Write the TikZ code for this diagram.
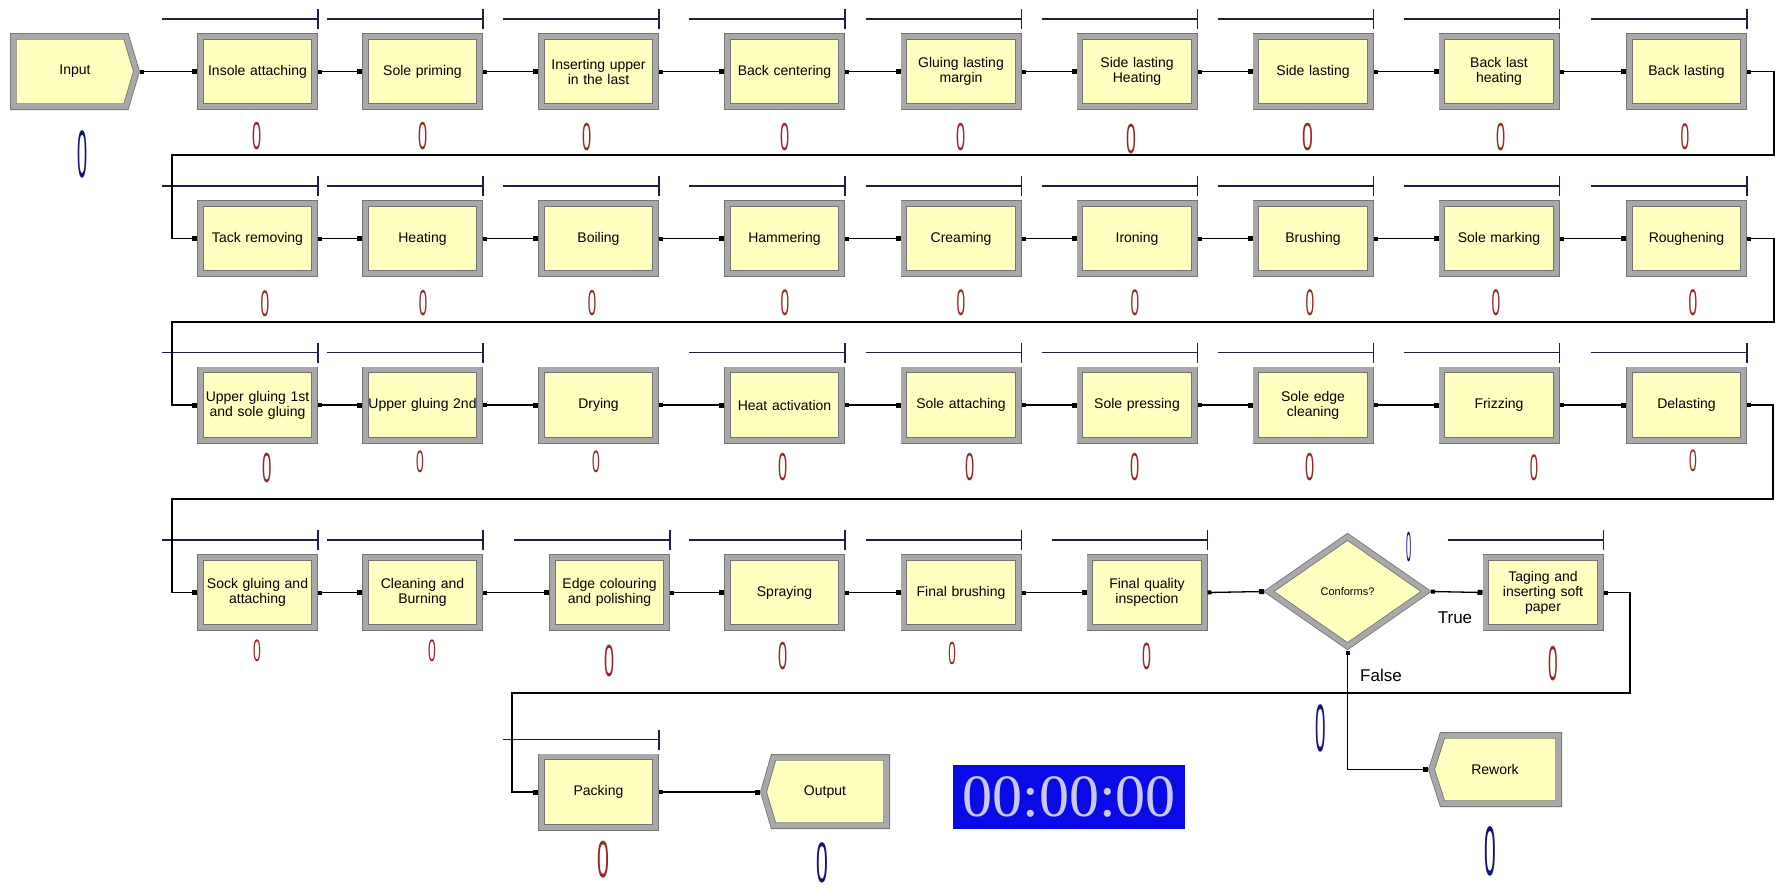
\documentclass[tikz,border=0pt]{standalone}
\usepackage{fontspec}
\usepackage{graphicx}
\setmainfont{Liberation Sans}
\newfontfamily\clockfont{Liberation Serif}
\usetikzlibrary{arrows.meta,shapes.geometric}
\definecolor{boxfill}{RGB}{255,255,192}
\definecolor{framegray}{RGB}{168,168,168}
\definecolor{frameedge}{RGB}{115,115,115}
\definecolor{barcol}{RGB}{30,30,70}
\definecolor{cred}{RGB}{150,40,40}
\definecolor{cblue}{RGB}{20,20,120}
\definecolor{clockbg}{RGB}{10,10,230}
\definecolor{clocktxt}{RGB}{200,200,240}
\tikzset{
  frame/.style={draw=frameedge, double=framegray, double distance=5pt, line width=0.8pt, fill=boxfill},
  proc/.style={frame, rectangle, minimum width=114.4pt, minimum height=70.4pt, inner sep=1pt, outer sep=3.3pt,
    align=center, text width=112pt, font=\fontsize{14}{15}\selectfont},
  shapelabel/.style={inner sep=0pt, outer sep=0pt, minimum height=77pt, font=\fontsize{14}{15}\selectfont},
  conn/.style={draw=black, line width=1.3pt, {Square[length=4pt,width=4pt]}-{Square[length=5pt,width=5pt]}},
  barline/.style={draw=barcol, line width=1.8pt},
  tflabel/.style={inner sep=0pt, font=\fontsize{17}{17}\selectfont},
}
\newcommand\zcount[6]{\node[text=#6, inner sep=0pt, outer sep=0pt] (#1) at (#2,#3) {\fontsize{#4}{#4}\selectfont\scalebox{#5}[1]{0}};}
\begin{document}
\begin{tikzpicture}[x=1pt,y=-1pt]
\fill[white] (0,0) rectangle (1783,892);
\useasboundingbox (0,0) rectangle (1783,892);

% ---- custom shapes (Create / Dispose)
\draw[frame] (13.3,36.3) -- (126,36.3) -- (136.5,71.5) -- (126,106.7) -- (13.3,106.7) -- cycle;
\node[shapelabel, minimum width=130pt] (input) at (75,71.5) {Input};
\draw[frame] (763.5,792) -- (773.5,757.3) -- (886.7,757.3) -- (886.7,825.7) -- (773.5,825.7) -- cycle;
\node[shapelabel, minimum width=130pt] (output) at (825,792) {Output};
\draw[frame] (1431.5,769.5) -- (1442.5,735.3) -- (1558.7,735.3) -- (1558.7,803.7) -- (1442.5,803.7) -- cycle;
\node[shapelabel, minimum width=134pt, minimum height=75pt] (rework) at (1495,769.5) {Rework};

% ---- row 1
\node[proc] (b11) at (257.5,71.5) {Insole attaching};
\node[proc] (b12) at (422.5,71.5) {Sole priming};
\node[proc] (b13) at (598.5,71.5) {Inserting upper\\in the last};
\node[proc] (b14) at (784.5,71.5) {Back centering};
\node[proc] (b15) at (961,71.5) {Gluing lasting\\margin};
\node[proc] (b16) at (1137,71.5) {Side lasting\\Heating};
\node[proc] (b17) at (1313,71.5) {Side lasting};
\node[proc] (b18) at (1499,71.5) {Back last\\heating};
\node[proc] (b19) at (1686.5,71.5) {Back lasting};
% ---- row 2
\node[proc] (b21) at (257.5,238.5) {Tack removing};
\node[proc] (b22) at (422.5,238.5) {Heating};
\node[proc] (b23) at (598.5,238.5) {Boiling};
\node[proc] (b24) at (784.5,238.5) {Hammering};
\node[proc] (b25) at (961,238.5) {Creaming};
\node[proc] (b26) at (1137,238.5) {Ironing};
\node[proc] (b27) at (1313,238.5) {Brushing};
\node[proc] (b28) at (1499,238.5) {Sole marking};
\node[proc] (b29) at (1686.5,238.5) {Roughening};
% ---- row 3
\node[proc] (b31) at (257.5,405) {Upper gluing 1st\\and sole gluing};
\node[proc] (b32) at (422.5,405) {Upper gluing 2nd};
\node[proc] (b33) at (598.5,405) {Drying};
\node[proc] (b34) at (784.5,405) {Heat activation};
\node[proc] (b35) at (961,405) {Sole attaching};
\node[proc] (b36) at (1137,405) {Sole pressing};
\node[proc] (b37) at (1313,405) {Sole edge\\cleaning};
\node[proc] (b38) at (1499,405) {Frizzing};
\node[proc] (b39) at (1686.5,405) {Delasting};
% ---- row 4
\node[proc] (b41) at (257.5,592.5) {Sock gluing and\\attaching};
\node[proc] (b42) at (422.5,592.5) {Cleaning and\\Burning};
\node[proc] (b43) at (609.5,592.5) {Edge colouring\\and polishing};
\node[proc] (b44) at (784.5,592.5) {Spraying};
\node[proc] (b45) at (961,592.5) {Final brushing};
\node[proc] (b46) at (1147,592.5) {Final quality\\inspection};
\node[frame, diamond, minimum width=160pt, minimum height=112pt, inner sep=0pt, outer sep=3.3pt,
  font=\fontsize{11}{12}\selectfont] (dia) at (1347.5,591.5) {Conforms?};
\node[proc] (b47) at (1543,592.5) {Taging and\\inserting soft\\paper};
% ---- row 5
\node[proc] (pack) at (598.5,792) {Packing};
\node[fill=clockbg, minimum width=232pt, minimum height=64pt, inner sep=0pt, text=clocktxt,
  font=\clockfont\fontsize{60}{60}\selectfont] (clock) at (1069,797) {00:00:00};

% ---- resource bars
\foreach \n in {b11,b12,b13,b14,b15,b16,b17,b18,b19,b21,b22,b23,b24,b25,b26,b27,b28,b29,
  b31,b32,b34,b35,b36,b37,b38,b39,b41,b42,b43,b44,b45,b46,b47,pack}{
  \draw[barline] ([xshift=-156pt,yshift=14pt]\n.north east) -- ([yshift=14pt]\n.north east);
  \draw[barline] ([yshift=4pt]\n.north east) -- ([yshift=24pt]\n.north east);
}

% ---- connectors
\draw[conn] (input.east) -- (b11.west);
\draw[conn] (b11) -- (b12); \draw[conn] (b12) -- (b13); \draw[conn] (b13) -- (b14);
\draw[conn] (b14) -- (b15); \draw[conn] (b15) -- (b16); \draw[conn] (b16) -- (b17);
\draw[conn] (b17) -- (b18); \draw[conn] (b18) -- (b19);
\draw[conn] (b19.east) -- (1774,71.5) |- (172,155) |- (b21.west);
\draw[conn] (b21) -- (b22); \draw[conn] (b22) -- (b23); \draw[conn] (b23) -- (b24);
\draw[conn] (b24) -- (b25); \draw[conn] (b25) -- (b26); \draw[conn] (b26) -- (b27);
\draw[conn] (b27) -- (b28); \draw[conn] (b28) -- (b29);
\draw[conn] (b29.east) -- (1774,238.5) |- (172,322) |- (b31.west);
\draw[conn] (b31) -- (b32); \draw[conn] (b32) -- (b33); \draw[conn] (b33) -- (b34);
\draw[conn] (b34) -- (b35); \draw[conn] (b35) -- (b36); \draw[conn] (b36) -- (b37);
\draw[conn] (b37) -- (b38); \draw[conn] (b38) -- (b39);
\draw[conn] (b39.east) -- (1773,405) |- (172,499) |- (b41.west);
\draw[conn] (b41) -- (b42); \draw[conn] (b42) -- (b43); \draw[conn] (b43) -- (b44);
\draw[conn] (b44) -- (b45); \draw[conn] (b45) -- (b46);
\draw[conn] (b46.east) -- (dia.west);
\draw[conn] (dia.east) -- (b47.west);
\draw[conn] (dia.south) |- (rework.west);
\draw[conn] (b47.east) -- (1630,592.5) |- (512,693) |- (pack.west);
\draw[conn] (pack.east) -- (output.west);

\node[tflabel] (ltrue) at (1455,618) {True};
\node[tflabel] (lfalse) at (1381,675) {False};

% ---- counters
\zcount{k0}{83}{154}{67}{0.27}{cblue}
\zcount{k11}{257}{136}{39}{0.42}{cred}
\zcount{k12}{423}{136}{39}{0.42}{cred}
\zcount{k13}{587}{137}{39}{0.42}{cred}
\zcount{k14}{785}{137}{39}{0.42}{cred}
\zcount{k15}{961}{137}{39}{0.42}{cred}
\zcount{k16}{1131}{139}{42}{0.42}{cred}
\zcount{k17}{1308}{137}{39}{0.5}{cred}
\zcount{k18}{1501}{137}{39}{0.42}{cred}
\zcount{k19}{1685}{137}{37}{0.42}{cred}
\zcount{k21}{265}{304}{37}{0.42}{cred}
\zcount{k22}{423}{303}{36}{0.42}{cred}
\zcount{k23}{592}{303}{36}{0.42}{cred}
\zcount{k24}{785}{303}{37}{0.42}{cred}
\zcount{k25}{961}{303}{37}{0.42}{cred}
\zcount{k26}{1135}{303}{37}{0.42}{cred}
\zcount{k27}{1310}{303}{37}{0.42}{cred}
\zcount{k28}{1496}{303}{37}{0.42}{cred}
\zcount{k29}{1693}{303}{37}{0.42}{cred}
\zcount{k31}{267}{468}{42}{0.4}{cred}
\zcount{k32}{420}{462}{31}{0.45}{cred}
\zcount{k33}{596}{462}{31}{0.45}{cred}
\zcount{k34}{783}{467}{39}{0.42}{cred}
\zcount{k35}{970}{467}{39}{0.42}{cred}
\zcount{k36}{1135}{467}{39}{0.42}{cred}
\zcount{k37}{1310}{467}{39}{0.42}{cred}
\zcount{k38}{1534}{468}{37}{0.4}{cred}
\zcount{k39}{1693}{461}{31}{0.45}{cred}
\zcount{k41}{257}{651}{31}{0.45}{cred}
\zcount{k42}{432}{651}{31}{0.45}{cred}
\zcount{k43}{609}{661}{45}{0.4}{cred}
\zcount{k44}{783}{656}{39}{0.42}{cred}
\zcount{k45}{952}{653}{32}{0.42}{cred}
\zcount{k46}{1147}{656}{38}{0.42}{cred}
\zcount{kd1}{1409}{547}{42}{0.22}{cblue}
\zcount{kd2}{1321}{728}{67}{0.28}{cblue}
\zcount{k47}{1553}{664}{49}{0.35}{cred}
\zcount{k51}{603}{860}{52}{0.41}{cred}
\zcount{ko}{822}{863}{57}{0.37}{cblue}
\zcount{kr}{1490}{851}{70}{0.3}{cblue}
\end{tikzpicture}
\end{document}
